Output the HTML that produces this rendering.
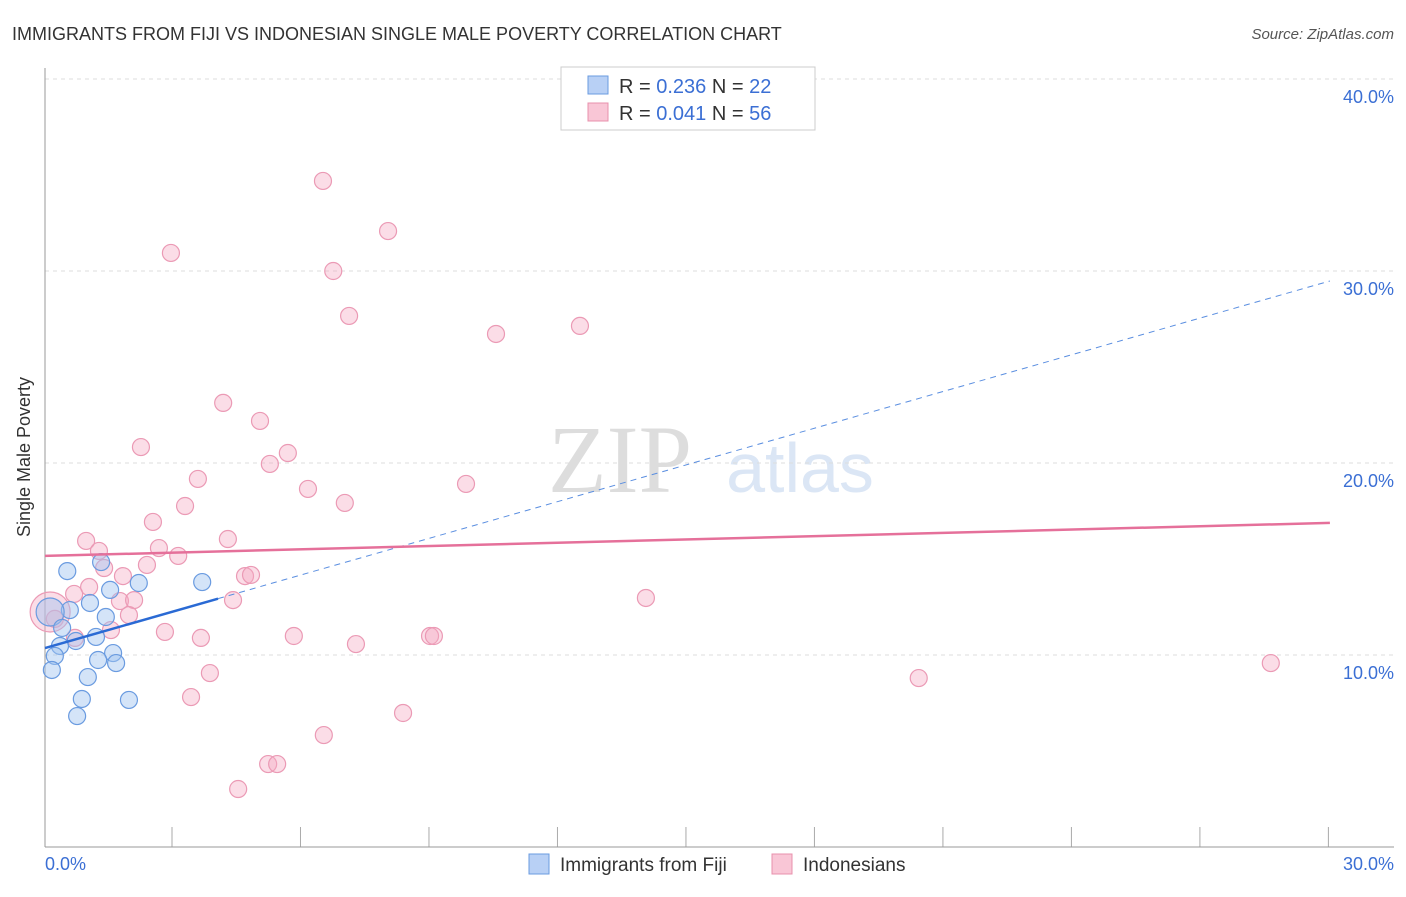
<!DOCTYPE html>
<html><head><meta charset="utf-8"><style>
body{margin:0;background:#fff;font-family:"Liberation Sans",sans-serif}
</style></head><body>
<svg width="1406" height="892" xmlns="http://www.w3.org/2000/svg" font-family="Liberation Sans, sans-serif">
<text x="12" y="40" font-size="18" fill="#333">IMMIGRANTS FROM FIJI VS INDONESIAN SINGLE MALE POVERTY CORRELATION CHART</text>
<text x="1394" y="39" font-size="15" fill="#555" font-style="italic" text-anchor="end">Source: ZipAtlas.com</text>
<text x="620" y="492" font-size="96" fill="#ddd" font-family="Liberation Serif, serif" text-anchor="middle">ZIP</text>
<text x="800" y="492" font-size="70" fill="#dbe6f5" text-anchor="middle">atlas</text>
<g id="grid"></g>
<line x1="45" y1="68" x2="45" y2="847" stroke="#999"/>
<line x1="45" y1="847" x2="1394" y2="847" stroke="#999"/>
<text x="30" y="457" font-size="18" fill="#333" text-anchor="middle" transform="rotate(-90 30 457)">Single Male Poverty</text>
<text x="45" y="870" font-size="18" fill="#3b6fd4">0.0%</text>
<text x="1394" y="870" font-size="18" fill="#3b6fd4" text-anchor="end">30.0%</text>
<g id="pts"></g>
<g id="lines"></g>
<rect x="561" y="67" width="254" height="63" fill="#fff" stroke="#ccc"/>
<rect x="588" y="76" width="20" height="18" fill="#b8d0f5" stroke="#6a9be0"/>
<rect x="588" y="103" width="20" height="18" fill="#f9c6d6" stroke="#e890ac"/>
<text x="619" y="93" font-size="20" fill="#333">R = <tspan fill="#3b6fd4">0.236</tspan>    N = <tspan fill="#3b6fd4">22</tspan></text>
<text x="619" y="120" font-size="20" fill="#333">R = <tspan fill="#3b6fd4">0.041</tspan>    N = <tspan fill="#3b6fd4">56</tspan></text>
<rect x="529" y="854" width="20" height="20" fill="#b8d0f5" stroke="#6a9be0"/>
<text x="560" y="871" font-size="19" fill="#333">Immigrants from Fiji</text>
<rect x="772" y="854" width="20" height="20" fill="#f9c6d6" stroke="#e890ac"/>
<text x="803" y="871" font-size="19" fill="#333">Indonesians</text>
</svg>
<script>
const yTicks=[10,20,30,40];
const yTickLabels=["10.0%","20.0%","30.0%","40.0%"];
const xTicks=[3,6,9,12,15,18,21,24,27,30];
const fijiX=[0.52,1.31,2.19,3.67,1.52,1.05,0.58,1.42,0.12,0.40,1.19,0.72,0.35,0.23,1.59,1.24,1.66,0.16,1.00,0.86,1.96,0.75];
const fijiY=[14.37,14.84,13.75,13.80,13.39,12.71,12.34,11.98,12.24,11.41,10.94,10.73,10.47,9.95,10.10,9.74,9.58,9.22,8.85,7.71,7.66,6.82];
const indoX=[6.49,8.01,2.94,6.73,7.10,12.49,10.53,4.16,5.02,2.24,5.67,5.25,3.57,9.83,6.14,7.00,3.27,2.52,4.27,0.96,2.66,1.26,3.11,2.38,1.38,1.82,4.67,4.81,1.03,0.68,1.75,2.08,4.39,14.03,1.96,0.23,2.80,1.54,5.81,0.70,3.64,8.99,9.08,7.26,3.85,28.62,20.40,3.41,8.36,6.51,5.21,5.42,4.51,0.12];
const indoY=[34.69,32.08,30.94,30.00,27.66,27.14,26.72,23.13,22.19,20.83,20.52,19.95,19.17,18.91,18.65,17.92,17.76,16.93,16.04,15.94,15.57,15.42,15.16,14.69,14.53,14.11,14.11,14.17,13.54,13.18,12.81,12.86,12.86,12.97,12.08,11.88,11.20,11.30,10.99,10.89,10.89,10.99,10.99,10.57,9.06,9.58,8.80,7.81,6.98,5.83,4.32,4.32,3.02,12.24];
const fijiTrend=[10.36,29.48];
const indoTrend=[15.16,16.88];
const X=v=>45+v*42.83, Y=v=>847-v*19.2;
const NS="http://www.w3.org/2000/svg";
function mk(t,a,p){const e=document.createElementNS(NS,t);for(const k in a)e.setAttribute(k,a[k]);p.appendChild(e);return e;}
const grid=document.getElementById('grid');
yTicks.forEach((v,i)=>{
 const l=mk('line',{x1:45,x2:1394,y1:Y(v),y2:Y(v),stroke:'#ddd','stroke-dasharray':'4,4'},grid);
 
 
 const t=mk('text',{x:1394,y:Y(v)+24,'font-size':18,fill:'#3b6fd4','text-anchor':'end'},grid);
 t.textContent=yTickLabels[i];
 
 
});
xTicks.forEach(v=>{
 const l=mk('line',{x1:X(v)-1.5,x2:X(v)-1.5,y1:827,y2:847,stroke:'#aaa'},grid);
 
 
});
const pts=document.getElementById('pts');
indoX.forEach((x,i)=>{
 const big=i===indoX.length-1;
 const c=mk('circle',{cx:X(x),cy:Y(indoY[i]),r:big?20:8.5,fill:'rgba(246,170,195,0.4)',stroke:'#eb9ab5','stroke-width':1.2},pts);
 
 
});
fijiX.forEach((x,i)=>{
 const big=i===8;
 const c=mk('circle',{cx:X(x),cy:Y(fijiY[i]),r:big?14:8.5,fill:'rgba(160,195,240,0.45)',stroke:'#6a9be0','stroke-width':1.2},pts);
 
 
});
const ln=document.getElementById('lines');
const fy=x=>fijiTrend[0]+(fijiTrend[1]-fijiTrend[0])*x/30;
let a=mk('line',{x1:X(0),y1:Y(fy(0)),x2:X(4.04),y2:Y(fy(4.04)),stroke:'#2a6ad4','stroke-width':2.5},ln);


a=mk('line',{x1:X(4.04),y1:Y(fy(4.04)),x2:X(30),y2:Y(fy(30)),stroke:'#5a8ee0','stroke-width':1,'stroke-dasharray':'6,5'},ln);


a=mk('line',{x1:X(0),y1:Y(indoTrend[0]),x2:X(30),y2:Y(indoTrend[1]),stroke:'#e5709a','stroke-width':2.5},ln);


</script>
</body></html>
